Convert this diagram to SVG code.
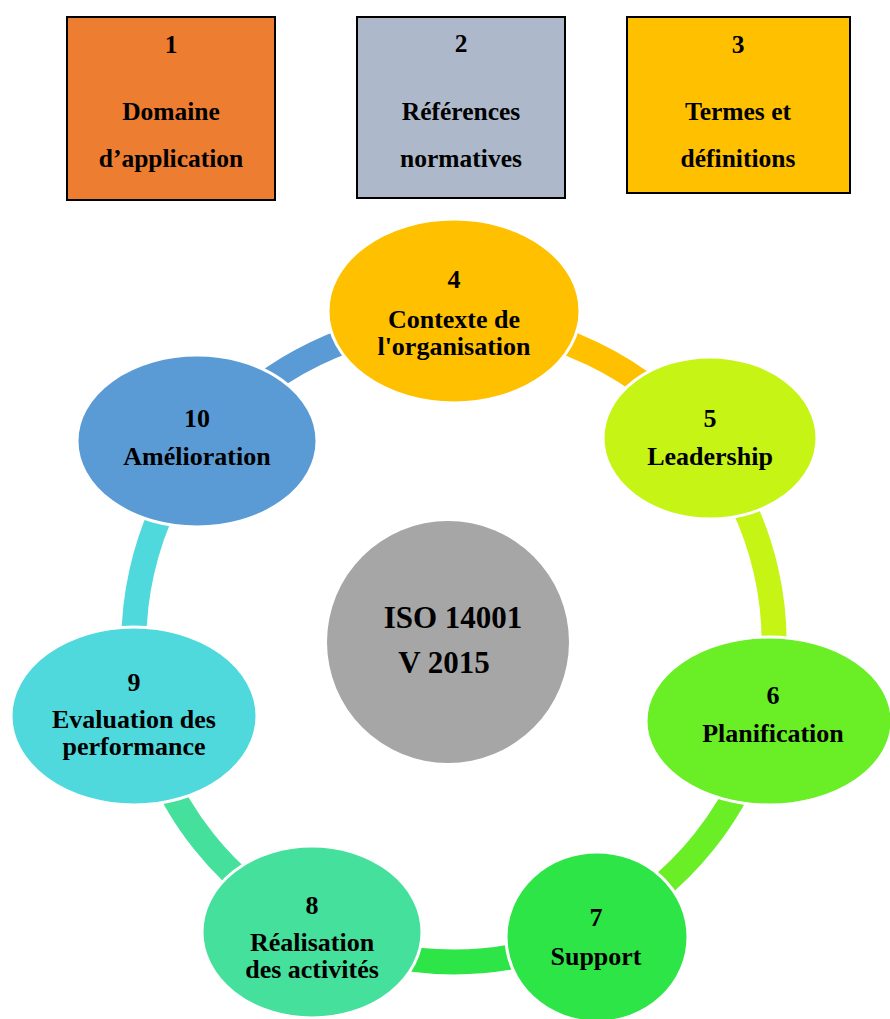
<svg xmlns="http://www.w3.org/2000/svg" width="890" height="1019" viewBox="0 0 890 1019">
<style>
.t{font-family:"Liberation Serif","Times New Roman",serif;font-weight:bold;fill:#000;text-anchor:middle}
.bt{font-size:25.5px}
.et{font-size:26px}
.ct{font-size:31px}
.box{stroke:#000;stroke-width:2}
.ring{fill:none;stroke-width:25}
.el{stroke:#fff;stroke-width:3}
</style>
<rect width="890" height="1019" fill="#fff"/>
<g id="box1"><rect class="box" x="67" y="17" width="208" height="183" fill="#ED7D31"/>
<text class="t bt" x="171" y="53">1</text><text class="t bt" x="171" y="120">Domaine</text><text class="t bt" x="171" y="167">d’application</text></g>
<g id="box2"><rect class="box" x="357" y="17" width="208" height="181" fill="#ADB9CA"/>
<text class="t bt" x="461" y="52">2</text><text class="t bt" x="461" y="120">Références</text><text class="t bt" x="461" y="167">normatives</text></g>
<g id="box3"><rect class="box" x="627" y="17" width="223" height="176" fill="#FFC000"/>
<text class="t bt" x="738" y="53">3</text><text class="t bt" x="738" y="120">Termes et</text><text class="t bt" x="738" y="167">définitions</text></g>
<g id="connectors">
<path class="ring" stroke="#FFC000" d="M454,322 A320,320 0 0 1 704.2,442.5"/>
<path class="ring" stroke="#C5F415" d="M704.2,442.5 A320,320 0 0 1 766,713.2"/>
<path class="ring" stroke="#6AEE25" d="M766,713.2 A320,320 0 0 1 592.8,930.3"/>
<path class="ring" stroke="#2EE548" d="M592.8,930.3 A320,320 0 0 1 315.2,930.3"/>
<path class="ring" stroke="#45E09B" d="M315.2,930.3 A320,320 0 0 1 142,713.2"/>
<path class="ring" stroke="#4FD9DC" d="M142,713.2 A320,320 0 0 1 203.8,442.5"/>
<path class="ring" stroke="#5B9BD5" d="M203.8,442.5 A320,320 0 0 1 454,322"/>
</g>
<g id="center"><circle cx="448" cy="642" r="121" fill="#A6A6A6"/>
<text class="t ct" x="453" y="628">ISO 14001</text><text class="t ct" x="444" y="673">V 2015</text></g>
<g id="n4"><ellipse class="el" cx="454" cy="311" rx="126" ry="92" fill="#FFC000"/>
<text class="t et" x="454" y="288">4</text><text class="t et" x="454" y="328">Contexte de</text><text class="t et" x="454" y="355">l'organisation</text></g>
<g id="n5"><ellipse class="el" cx="710" cy="438" rx="107" ry="81" fill="#C5F415"/>
<text class="t et" x="710" y="427">5</text><text class="t et" x="710" y="465">Leadership</text></g>
<g id="n6"><ellipse class="el" cx="769" cy="721" rx="123" ry="84" fill="#6AEE25"/>
<text class="t et" x="773" y="704">6</text><text class="t et" x="773" y="742">Planification</text></g>
<g id="n7"><ellipse class="el" cx="597" cy="937" rx="91" ry="85" fill="#2EE548"/>
<text class="t et" x="596" y="926">7</text><text class="t et" x="596" y="965">Support</text></g>
<g id="n8"><ellipse class="el" cx="312" cy="932" rx="110" ry="86" fill="#45E09B"/>
<text class="t et" x="312" y="914">8</text><text class="t et" x="312" y="951">Réalisation</text><text class="t et" x="312" y="978">des activités</text></g>
<g id="n9"><ellipse class="el" cx="134" cy="716" rx="123" ry="89" fill="#4FD9DC"/>
<text class="t et" x="134" y="691">9</text><text class="t et" x="134" y="728">Evaluation des</text><text class="t et" x="134" y="755">performance</text></g>
<g id="n10"><ellipse class="el" cx="197" cy="441" rx="120" ry="86" fill="#5B9BD5"/>
<text class="t et" x="197" y="427">10</text><text class="t et" x="197" y="465">Amélioration</text></g>
</svg>
